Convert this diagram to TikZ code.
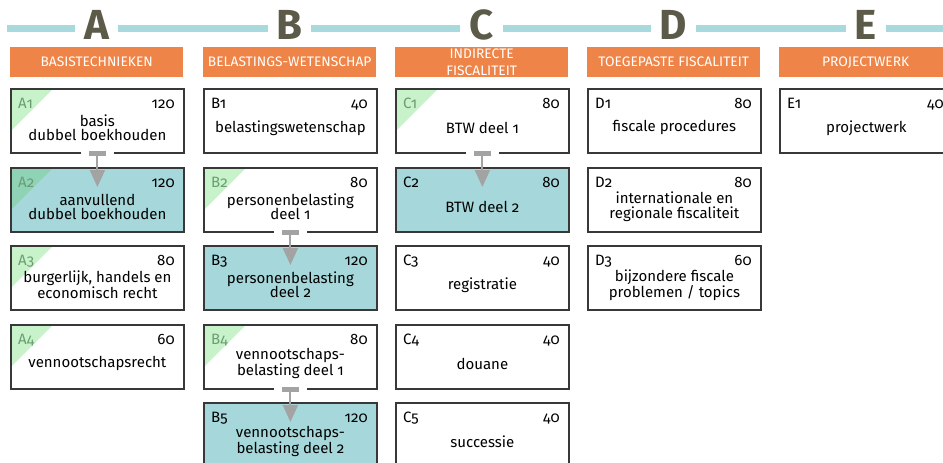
\documentclass[tikz,border=0pt]{standalone}
\usepackage{fontspec}
\setmainfont{Fira Sans}[Numbers=OldStyle]
\usepackage{xcolor}
\usepackage{tikz}
\usetikzlibrary{arrows.meta, positioning, calc}

\definecolor{ruleteal}{HTML}{A8D9DC}
\definecolor{letterdark}{HTML}{5C5A48}
\definecolor{headorange}{HTML}{EE8447}
\definecolor{boxteal}{HTML}{A6D8DB}
\definecolor{cornergreen}{HTML}{C8F2CA}
\definecolor{cornerdeep}{HTML}{8ED3B6}
\definecolor{codegreen}{HTML}{6A9E72}
\definecolor{flowgray}{HTML}{A3A3A3}
\definecolor{edgedark}{HTML}{383838}

\begin{document}
\begin{tikzpicture}[x=1pt, y=-1pt,
    % Node styles
    colletter/.style={fill=white, text=letterdark, inner xsep=9pt, inner ysep=2pt, font=\fontsize{42}{42}\selectfont\bfseries},
    header/.style={rectangle, fill=headorange, anchor=north west, minimum width=173pt, minimum height=30pt, inner sep=0pt, text=white, align=center, font=\fontsize{13.8}{17}\selectfont},
    course/.style={rectangle, draw=edgedark, line width=1.8pt, fill=white, anchor=north west, minimum width=173pt, minimum height=64pt},
    followup/.style={course, fill=boxteal},
    corner/.style={path picture={\fill[#1] (path picture bounding box.north west) -- ++(42,0) -- ++(-42,42) -- cycle;}},
    corner/.default=cornergreen,
    coursetext/.style={align=center, inner sep=0pt, yshift=-7pt, font=\fontsize{15}{14.5}\selectfont},
    codetag/.style={anchor=base west, inner sep=0pt, xshift=8pt, yshift=-20pt, font=\fontsize{15}{15}\selectfont},
    cornercode/.style={codetag, text=codegreen},
    hourstag/.style={anchor=base east, inner sep=0pt, xshift=-10pt, yshift=-20pt, font=\fontsize{15}{15}\selectfont},
    ruleline/.style={draw=ruleteal, line width=7pt},
    gap/.style={draw=white, line width=4pt},
    flow/.style={draw=flowgray, line width=2pt, {Rectangle[width=17pt, length=5pt]}-{Triangle[width=15pt, length=17pt]}, shorten <=-3pt, shorten >=-20pt}
]
\useasboundingbox (0,0) rectangle (943,463);
\clip (0,0) rectangle (943,463);

% Column letters on the rule
\draw[ruleline] (7,28.5) -- (943,28.5);
\node[colletter] (lettera) at (96.5,24.5) {A};
\node[colletter] (letterb) at (289.5,24.5) {B};
\node[colletter] (letterc) at (481.5,24.5) {C};
\node[colletter] (letterd) at (673.5,24.5) {D};
\node[colletter] (lettere) at (866,24.5) {E};

% Headers
\node[header] (heada) at (10,47) {BASISTECHNIEKEN};
\node[header] (headb) at (203,47) {BELASTINGS-WETENSCHAP};
\node[header] (headc) at (395,47) {INDIRECTE\\FISCALITEIT};
\node[header] (headd) at (587,47) {TOEGEPASTE FISCALITEIT};
\node[header] (heade) at (779,47) {PROJECTWERK};

% COLUMN A
\node[course, corner, label={[cornercode]north west:A1}, label={[hourstag]north east:120}, label={[coursetext]center:basis\\dubbel boekhouden}] (a1) at (10,88) {};
\node[followup, corner=cornerdeep, label={[cornercode]north west:A2}, label={[hourstag]north east:120}, label={[coursetext]center:aanvullend\\dubbel boekhouden}] (a2) at (10,167) {};
\node[course, corner, label={[cornercode]north west:A3}, label={[hourstag]north east:80}, label={[coursetext]center:burgerlijk, handels en\\economisch recht}] (a3) at (10,245) {};
\node[course, corner, label={[cornercode]north west:A4}, label={[hourstag]north east:60}, label={[coursetext]center:vennootschapsrecht}] (a4) at (10,324) {};

% COLUMN B
\node[course, label={[codetag]north west:B1}, label={[hourstag]north east:40}, label={[coursetext]center:belastingswetenschap}] (b1) at (203,88) {};
\node[course, corner, label={[cornercode]north west:B2}, label={[hourstag]north east:80}, label={[coursetext]center:personenbelasting\\deel 1}] (b2) at (203,167) {};
\node[followup, label={[codetag]north west:B3}, label={[hourstag]north east:120}, label={[coursetext]center:personenbelasting\\deel 2}] (b3) at (203,245) {};
\node[course, corner, label={[cornercode]north west:B4}, label={[hourstag]north east:80}, label={[coursetext]center:vennootschaps-\\belasting deel 1}] (b4) at (203,324) {};
\node[followup, label={[codetag]north west:B5}, label={[hourstag]north east:120}, label={[coursetext]center:vennootschaps-\\belasting deel 2}] (b5) at (203,402) {};

% COLUMN C
\node[course, corner, label={[cornercode]north west:C1}, label={[hourstag]north east:80}, label={[coursetext]center:BTW deel 1}] (c1) at (395,88) {};
\node[followup, label={[codetag]north west:C2}, label={[hourstag]north east:80}, label={[coursetext]center:BTW deel 2}] (c2) at (395,167) {};
\node[course, label={[codetag]north west:C3}, label={[hourstag]north east:40}, label={[coursetext]center:registratie}] (c3) at (395,245) {};
\node[course, label={[codetag]north west:C4}, label={[hourstag]north east:40}, label={[coursetext]center:douane}] (c4) at (395,324) {};
\node[course, label={[codetag]north west:C5}, label={[hourstag]north east:40}, label={[coursetext]center:successie}] (c5) at (395,402) {};

% COLUMN D
\node[course, label={[codetag]north west:D1}, label={[hourstag]north east:80}, label={[coursetext]center:fiscale procedures}] (d1) at (587,88) {};
\node[course, label={[codetag]north west:D2}, label={[hourstag]north east:80}, label={[coursetext]center:internationale en\\regionale fiscaliteit}] (d2) at (587,167) {};
\node[course, label={[codetag]north west:D3}, label={[hourstag]north east:60}, label={[coursetext]center:bijzondere fiscale\\problemen / topics}] (d3) at (587,245) {};

% COLUMN E
\node[course, label={[codetag]north west:E1}, label={[hourstag]north east:40}, label={[coursetext]center:projectwerk}] (e1) at (779,88) {};

% Follow-up arrows
\draw[gap] (a1.south) ++(-16.5,0) -- ++(33,0);
\draw[gap] (b2.south) ++(-16.5,0) -- ++(33,0);
\draw[gap] (b4.south) ++(-16.5,0) -- ++(33,0);
\draw[gap] (c1.south) ++(-16.5,0) -- ++(33,0);
\draw[flow] (a1.south) -- (a2.north);
\draw[flow] (b2.south) -- (b3.north);
\draw[flow] (b4.south) -- (b5.north);
\draw[flow] (c1.south) -- (c2.north);

\end{tikzpicture}
\end{document}
